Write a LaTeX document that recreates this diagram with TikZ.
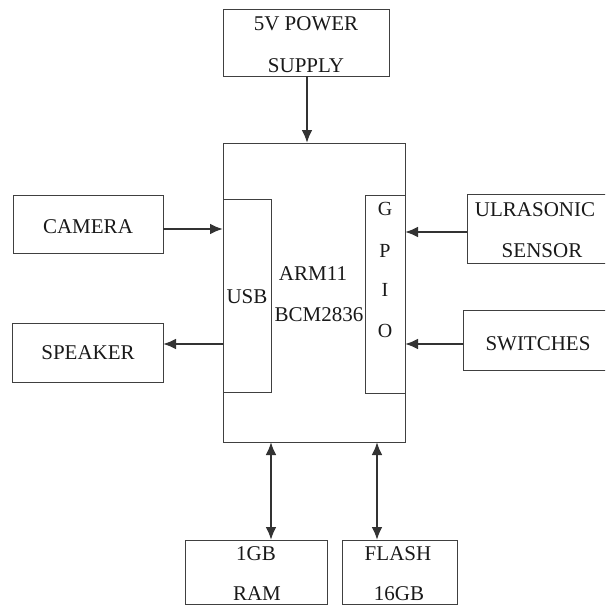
\documentclass[tikz,border=0pt]{standalone}
\usepackage{fontspec}
\setmainfont{Liberation Serif}
\usetikzlibrary{arrows.meta,calc}
\begin{document}
\begin{tikzpicture}[x=1pt,y=-1pt,
  box/.style={draw=black!75, line width=1pt, inner sep=0pt, outer sep=0pt},
  lbl/.style={font=\fontsize{21}{21}\selectfont, text=black!90, inner sep=0pt, anchor=base},
  slbl/.style={font=\fontsize{20}{20}\selectfont, text=black!90, inner sep=0pt, anchor=base},
  conn/.style={draw=black!80, line width=2.3pt, -{Latex[length=13pt,width=11pt]}},
  conn2/.style={draw=black!80, line width=2.3pt, {Latex[length=13pt,width=11pt]}-{Latex[length=13pt,width=11pt]}}]
\useasboundingbox (0,0) rectangle (605,605);
\clip (0,0) rectangle (605,605);
% boxes
\node[box, minimum width=166pt, minimum height=67pt] (pwr) at (306,42.5) {};
\node[box, minimum width=182pt, minimum height=299pt] (main) at (314,292.5) {};
\node[box, minimum width=48pt, minimum height=193pt] (usb) at (247,295.5) {};
\node[box, minimum width=40pt, minimum height=198pt] (gpio) at (385,294) {};
\node[box, minimum width=150pt, minimum height=58pt] (cam) at (88,224) {};
\node[box, minimum width=151pt, minimum height=59pt] (spk) at (87.5,352.5) {};
\node[box, minimum width=233pt, minimum height=69pt] (ult) at (583.5,228.5) {};
\node[box, minimum width=237pt, minimum height=60pt] (sw) at (581.5,340) {};
\node[box, minimum width=142pt, minimum height=64pt] (ram) at (256,572) {};
\node[box, minimum width=115pt, minimum height=64pt] (fls) at (399.5,572) {};
% labels
\node[lbl] (t1) at (306,30) {5V POWER};
\node[lbl] (t2) at (306,72) {SUPPLY};
\node[lbl] (t3) at (88,233) {CAMERA};
\node[lbl] (t4) at (88,359) {SPEAKER};
\node[lbl] (t5) at (247,303) {USB};
\node[lbl] (t6) at (313,280) {ARM11};
\node[lbl] (t7) at (319,321) {BCM2836};
\node[slbl] (g1) at (385,215) {G};
\node[slbl] (g2) at (385,257) {P};
\node[slbl] (g3) at (385,296) {I};
\node[slbl] (g4) at (385,337) {O};
\node[lbl] (t8) at (535,216) {ULRASONIC};
\node[lbl] (t9) at (542,257) {SENSOR};
\node[lbl] (t10) at (538,350) {SWITCHES};
\node[lbl] (t11) at (256,560) {1GB};
\node[lbl] (t12) at (257,600) {RAM};
\node[lbl] (t13) at (398,560) {FLASH};
\node[lbl] (t14) at (399,600) {16GB};
% connectors
\coordinate (p1) at ([xshift=1pt]pwr.south);
\draw[conn] (p1) -- (p1 |- main.north);
\coordinate (c1) at ([yshift=-5pt]cam.east);
\draw[conn] (c1) -- (c1 -| main.west);
\coordinate (s1) at ([yshift=8.5pt]spk.east);
\draw[conn] (s1 -| main.west) -- (s1);
\coordinate (u1) at ([yshift=-3.5pt]ult.west);
\draw[conn] (u1) -- (u1 -| gpio.east);
\coordinate (w1) at ([yshift=-4pt]sw.west);
\draw[conn] (w1) -- (w1 -| gpio.east);
\coordinate (r1) at ([xshift=15pt]ram.north);
\draw[conn2] (r1 |- main.south) -- (r1);
\coordinate (f1) at ([xshift=-22.5pt]fls.north);
\draw[conn2] (f1 |- main.south) -- (f1);
\end{tikzpicture}
\end{document}
